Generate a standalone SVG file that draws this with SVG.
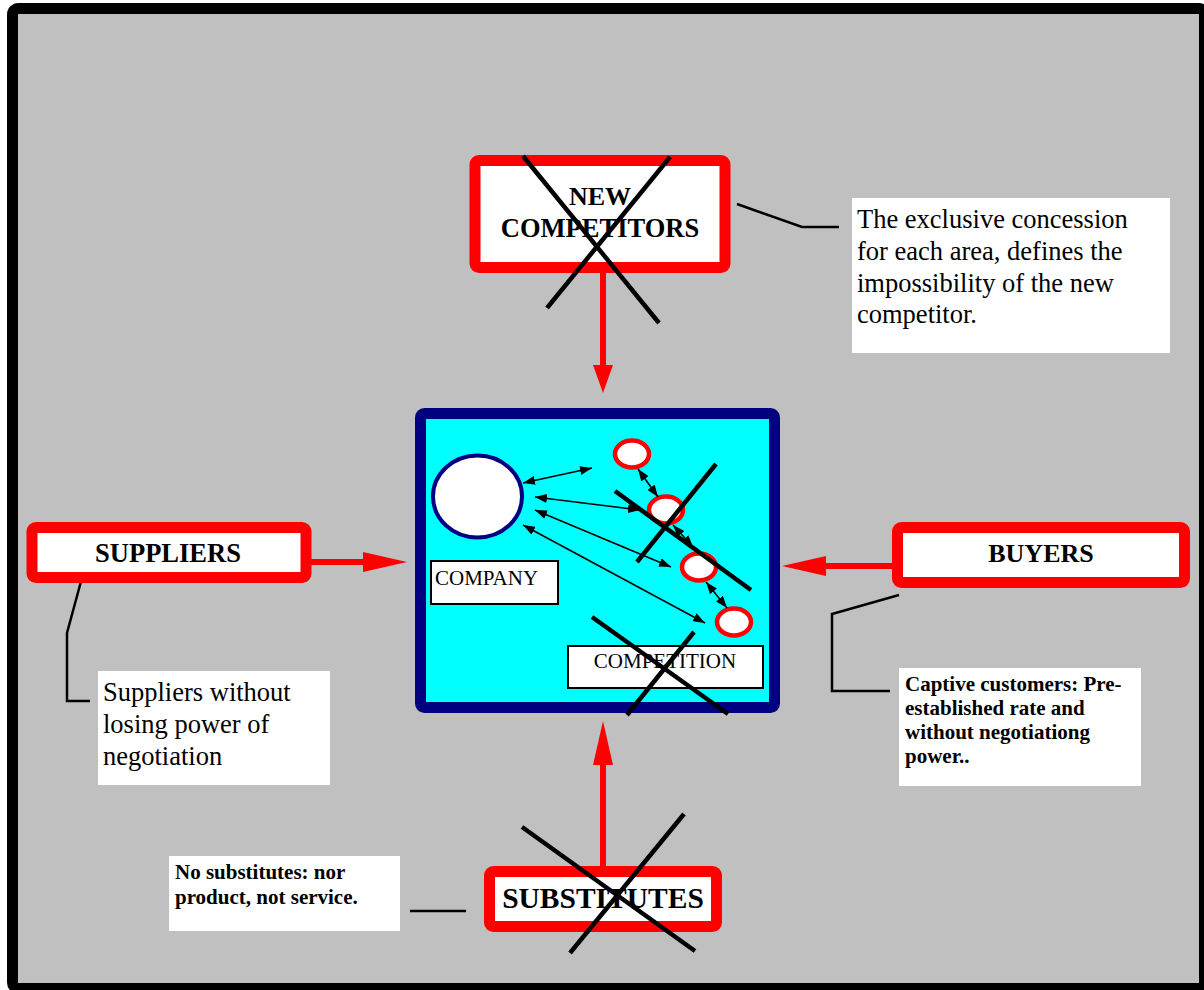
<svg xmlns="http://www.w3.org/2000/svg" width="1204" height="990" viewBox="0 0 1204 990">
<style>
.lbl{font-family:"Liberation Serif","Times New Roman",serif;font-weight:bold;font-size:26px;fill:#000;text-anchor:middle}
.note{font-family:"Liberation Serif","Times New Roman",serif;font-size:26.5px;fill:#000}
.bnote{font-family:"Liberation Serif","Times New Roman",serif;font-weight:bold;font-size:21px;fill:#000}
.small{font-family:"Liberation Serif","Times New Roman",serif;font-size:21px;fill:#000}
.force{fill:#fff;stroke:#ff0000;stroke-width:11}
.cross{stroke:#000;stroke-width:4.5;fill:none}
.leader{stroke:#000;stroke-width:2.5;fill:none}
.redarrow{stroke:#ff0000;stroke-width:6;fill:none}
.link{stroke:#000;stroke-width:1.6;fill:none;marker-start:url(#bh);marker-end:url(#bh)}
.rival{fill:#fff;stroke:#ff0000;stroke-width:4.5}
.white{fill:#fff}
</style>
<defs>
<marker id="rh" markerUnits="userSpaceOnUse" viewBox="0 0 44 20" markerWidth="44" markerHeight="20" refX="0" refY="10" orient="auto"><path d="M0,0 L44,10 L0,20 z" fill="#ff0000"/></marker>
<marker id="rhs" markerUnits="userSpaceOnUse" viewBox="0 0 28 20" markerWidth="28" markerHeight="20" refX="0" refY="10" orient="auto"><path d="M0,0 L28,10 L0,20 z" fill="#ff0000"/></marker>
<marker id="bh" markerUnits="userSpaceOnUse" viewBox="0 0 12 9" markerWidth="12" markerHeight="9" refX="12" refY="4.5" orient="auto-start-reverse"><path d="M0,0 L12,4.5 L0,9 z" fill="#000"/></marker>
</defs>

<rect id="frame" x="12.5" y="8.5" width="1192" height="980" rx="6" fill="#c0c0c0" stroke="#000" stroke-width="11"/>

<g id="connectors">
<line class="redarrow" x1="603" y1="273" x2="603" y2="365" marker-end="url(#rhs)"/>
<line class="redarrow" x1="603" y1="866" x2="603" y2="765" marker-end="url(#rh)"/>
<line class="redarrow" x1="311" y1="562" x2="363" y2="562" marker-end="url(#rh)"/>
<line class="redarrow" x1="892" y1="566" x2="826" y2="566" marker-end="url(#rh)"/>
<polyline class="leader" points="737,204 802,227 839,227"/>
<polyline class="leader" points="83,574 67,633 67,701 90,701"/>
<polyline class="leader" points="899,595 832,614 832,691 890,691"/>
<line class="leader" x1="410" y1="911" x2="466" y2="911"/>
</g>

<g id="industry">
<rect x="420.5" y="413.5" width="354" height="294" rx="4" fill="#00ffff" stroke="#000080" stroke-width="11"/>
<ellipse id="company-circle" cx="477.5" cy="496.5" rx="44.5" ry="41" fill="#fff" stroke="#000080" stroke-width="4"/>
<g id="company-label"><rect x="431" y="561" width="127" height="43" fill="#fff" stroke="#000" stroke-width="2"/><text class="small" x="435" y="585">COMPANY</text></g>
<g id="competition-label"><rect x="568" y="646" width="195" height="42" fill="#fff" stroke="#000" stroke-width="2"/><text class="small" x="665" y="668" text-anchor="middle">COMPETITION</text></g>
<ellipse class="rival" cx="632" cy="454" rx="17" ry="13.5"/>
<ellipse class="rival" cx="666" cy="510" rx="17" ry="13.5"/>
<ellipse class="rival" cx="699" cy="567" rx="17" ry="13.5"/>
<ellipse class="rival" cx="734" cy="622" rx="17" ry="13.5"/>
<g id="links">
<line class="link" x1="523" y1="483" x2="592" y2="468"/>
<line class="link" x1="535" y1="497" x2="640" y2="510"/>
<line class="link" x1="535" y1="510" x2="671" y2="567"/>
<line class="link" x1="523" y1="525" x2="705" y2="623"/>
<line class="link" x1="638" y1="469" x2="658" y2="497"/>
<line class="link" x1="673" y1="525" x2="693" y2="547"/>
<line class="link" x1="706" y1="582" x2="727" y2="608"/>
</g>
<line class="cross" x1="716" y1="464" x2="637" y2="562"/>
<line class="cross" x1="615" y1="491" x2="751" y2="590"/>
<line class="cross" x1="592" y1="617" x2="728" y2="714"/>
<line class="cross" x1="694" y1="632" x2="627" y2="715"/>
</g>

<g id="new-competitors">
<rect class="force" x="475" y="160.5" width="250" height="107" rx="4"/>
<text class="lbl" x="600" y="205">NEW</text>
<text class="lbl" x="600" y="237" style="font-size:26.5px">COMPETITORS</text>
<line class="cross" x1="523" y1="156" x2="659" y2="323"/>
<line class="cross" x1="670" y1="157" x2="547" y2="308"/>
</g>

<g id="new-competitors-note">
<rect class="white" x="852" y="198" width="318" height="155"/>
<text class="note" x="857" y="228">The exclusive concession</text>
<text class="note" x="857" y="260">for each area, defines the</text>
<text class="note" x="857" y="292">impossibility of the new</text>
<text class="note" x="857" y="323">competitor.</text>
</g>

<g id="suppliers">
<rect class="force" x="32" y="527.5" width="274" height="50" rx="4"/>
<text class="lbl" x="168" y="562" style="font-size:26.5px">SUPPLIERS</text>
</g>

<g id="suppliers-note">
<rect class="white" x="98" y="671" width="232" height="114"/>
<text class="note" x="103" y="701">Suppliers without</text>
<text class="note" x="103" y="733">losing power of</text>
<text class="note" x="103" y="765">negotiation</text>
</g>

<g id="buyers">
<rect class="force" x="897.5" y="527.5" width="287" height="55" rx="4"/>
<text class="lbl" x="1041" y="562">BUYERS</text>
</g>

<g id="buyers-note">
<rect class="white" x="899" y="668" width="242" height="118"/>
<text class="bnote" x="905" y="691">Captive customers: Pre-</text>
<text class="bnote" x="905" y="715">established rate and</text>
<text class="bnote" x="905" y="739">without negotiationg</text>
<text class="bnote" x="905" y="763">power..</text>
</g>

<g id="substitutes">
<rect class="force" x="489.5" y="871.5" width="227" height="55" rx="4"/>
<text class="lbl" x="603" y="908" style="font-size:29.5px">SUBSTITUTES</text>
<line class="cross" x1="522" y1="827" x2="695" y2="951"/>
<line class="cross" x1="684" y1="814" x2="570" y2="953"/>
</g>

<g id="substitutes-note">
<rect class="white" x="169" y="856" width="231" height="75"/>
<text class="bnote" x="175" y="879">No substitutes: nor</text>
<text class="bnote" x="175" y="904">product, not service.</text>
</g>
</svg>
